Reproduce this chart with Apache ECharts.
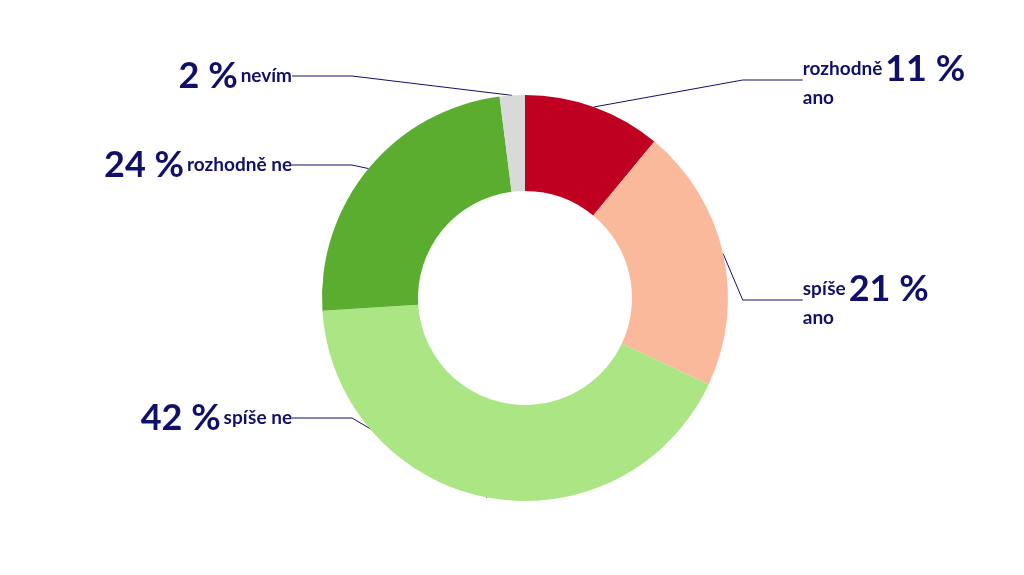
<!DOCTYPE html>
<html><head><meta charset="utf-8">
<script src="https://cdn.jsdelivr.net/npm/echarts@6/dist/echarts.min.js"></script>
<style>html,body{margin:0;background:#fff}#c{width:1024px;height:575px}</style>
</head><body><div id="c"></div>
<script>
const categories = ['rozhodně ano','spíše ano','spíše ne','rozhodně ne','nevím'];
const values = [11, 21, 42, 24, 2];
const colors = ['#c00021','#fbb99b','#abe584','#5aad2f','#d9d9d9'];
const labelsRight = [true, true, false, false, false];
const chart = echarts.init(document.getElementById('c'));
const navy = '#10106b';
function fmt(n,v,right){
  if(right){
    const parts=n.split(' ');
    return '{n|'+parts[0]+'} {p|'+v+' %}\n{n|'+parts.slice(1).join(' ')+'}{sp|}';
  }
  return '{p|'+v+' %} {n|'+n+'}';
}
chart.setOption({
  animation:false,
  series:[{
    type:'pie', center:[525,298], radius:[107,203], startAngle:90, clockwise:true,
    data: categories.map((n,i)=>({name:n, value:values[i], itemStyle:{color:colors[i]},
      label:{formatter: fmt(n,values[i],labelsRight[i])}})),
    label:{show:true, color:navy, fontFamily:'Lato', fontWeight:'bold',
      alignTo:'labelLine', bleedMargin:5, lineHeight:22,
      rich:{p:{fontSize:36,fontWeight:'bold',color:navy,fontFamily:'Lato',lineHeight:36},
            n:{fontSize:19,fontWeight:'bold',color:navy,fontFamily:'Lato',lineHeight:22},
            sp:{width:88}}},
    labelLine:{show:true, length:15, length2:60, lineStyle:{color:navy,width:1}},
    labelLayout:function(p){
      const ys=[80,300,418,165,76];
      return {y: ys[p.dataIndex], verticalAlign:'middle'};
    }
  }]
});
</script></body></html>
